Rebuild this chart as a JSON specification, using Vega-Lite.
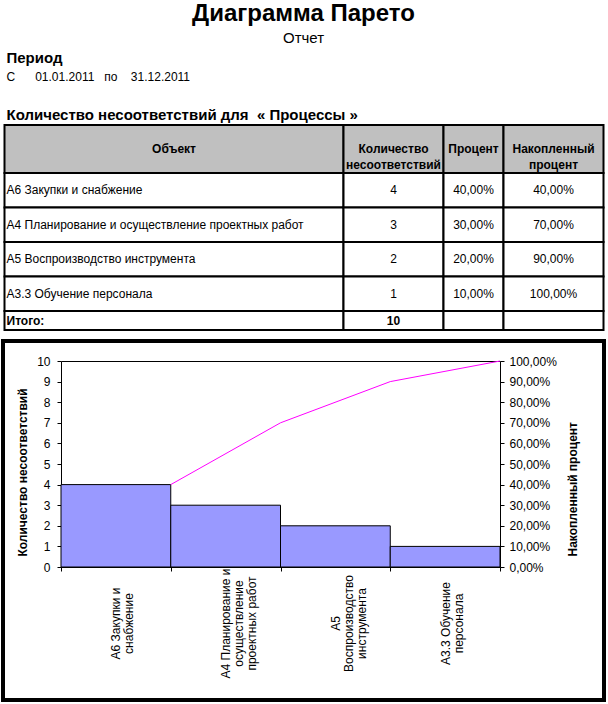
{
  "$schema": "https://vega.github.io/schema/vega-lite/v6.json",
  "padding": {"left": -5, "top": 2, "right": 0, "bottom": 0},
  "title": {"text": "Диаграмма Парето", "subtitle": "Отчет", "anchor": "middle", "fontSize": 24, "fontWeight": "bold", "subtitleFontSize": 15, "subtitlePadding": 5, "offset": 5, "dx": 3},
  "datasets": {
    "items": [
      {"object": "А6 Закупки и снабжение", "axisLabel": "А6 Закупки и|снабжение", "count": 4, "share": 0.4, "cumulative": 0.4},
      {"object": "А4 Планирование и осуществление проектных работ", "axisLabel": "А4 Планирование и|осуществление|проектных работ", "count": 3, "share": 0.3, "cumulative": 0.7},
      {"object": "А5 Воспроизводство инструмента", "axisLabel": "А5|Воспроизводство|инструмента", "count": 2, "share": 0.2, "cumulative": 0.9},
      {"object": "А3.3 Обучение персонала", "axisLabel": "А3.3 Обучение|персонала", "count": 1, "share": 0.1, "cumulative": 1.0}
    ],
    "columns": [
      {"key": "object", "header": "Объект"},
      {"key": "count", "header": ["Количество", "несоответствий"]},
      {"key": "share", "header": "Процент"},
      {"key": "cumulative", "header": ["Накопленный", "процент"]}
    ],
    "total": [{"label": "Итого:"}]
  },
  "vconcat": [
    {
      "title": {"text": "Период", "subtitle": "С\u00a0\u00a0\u00a0\u00a0\u00a0\u00a001.01.2011\u00a0\u00a0\u00a0по\u00a0\u00a0\u00a0\u00a031.12.2011", "anchor": "start", "fontSize": 15, "fontWeight": "bold", "subtitleFontSize": 12, "subtitlePadding": 6, "offset": 25, "dx": 3},
      "vconcat": [
        {
          "title": {"text": "Количество несоответствий для\u00a0\u00a0« Процессы »", "anchor": "start", "fontSize": 15, "fontWeight": "bold", "offset": 1, "dx": 3},
          "columns": 4,
          "spacing": 0,
          "bounds": "flush",
          "concat": [
            {"width": 339, "height": 48, "data": {"name": "columns"}, "transform": [{"filter": "datum.key === 'object'"}],
             "layer": [
               {"mark": {"type": "rect", "fill": "#c0c0c0", "stroke": "#000", "strokeWidth": 2}, "encoding": {}},
               {"mark": {"type": "text", "fontWeight": "bold", "fontSize": 12, "lineHeight": 16, "align": "center", "baseline": "middle"}, "encoding": {"text": {"field": "header", "type": "nominal"}}}
             ]},
            {"width": 100, "height": 48, "data": {"name": "columns"}, "transform": [{"filter": "datum.key === 'count'"}],
             "layer": [
               {"mark": {"type": "rect", "fill": "#c0c0c0", "stroke": "#000", "strokeWidth": 2}, "encoding": {}},
               {"mark": {"type": "text", "fontWeight": "bold", "fontSize": 12, "lineHeight": 16, "align": "center", "baseline": "middle"}, "encoding": {"text": {"field": "header", "type": "nominal"}}}
             ]},
            {"width": 60, "height": 48, "data": {"name": "columns"}, "transform": [{"filter": "datum.key === 'share'"}],
             "layer": [
               {"mark": {"type": "rect", "fill": "#c0c0c0", "stroke": "#000", "strokeWidth": 2}, "encoding": {}},
               {"mark": {"type": "text", "fontWeight": "bold", "fontSize": 12, "lineHeight": 16, "align": "center", "baseline": "middle"}, "encoding": {"text": {"field": "header", "type": "nominal"}}}
             ]},
            {"width": 100, "height": 48, "data": {"name": "columns"}, "transform": [{"filter": "datum.key === 'cumulative'"}],
             "layer": [
               {"mark": {"type": "rect", "fill": "#c0c0c0", "stroke": "#000", "strokeWidth": 2}, "encoding": {}},
               {"mark": {"type": "text", "fontWeight": "bold", "fontSize": 12, "lineHeight": 16, "align": "center", "baseline": "middle"}, "encoding": {"text": {"field": "header", "type": "nominal"}}}
             ]},

            {"width": 339, "height": 138, "data": {"name": "items"},
             "layer": [
               {"mark": {"type": "rect", "fill": "#fff", "stroke": "#000", "strokeWidth": 2},
                "encoding": {"y": {"field": "object", "type": "nominal", "sort": null, "axis": null, "scale": {"paddingInner": 0, "paddingOuter": 0}}}},
               {"mark": {"type": "text", "fontSize": 12, "align": "left", "baseline": "middle", "dx": 2},
                "encoding": {
                  "x": {"datum": 0, "type": "quantitative", "scale": {"domain": [0, 1]}, "axis": null},
                  "y": {"field": "object", "type": "nominal", "sort": null, "axis": null},
                  "text": {"field": "object", "type": "nominal"}}}
             ],
             "resolve": {"scale": {"x": "independent"}}},
            {"width": 100, "height": 138, "data": {"name": "items"},
             "layer": [
               {"mark": {"type": "rect", "fill": "#fff", "stroke": "#000", "strokeWidth": 2},
                "encoding": {"y": {"field": "object", "type": "nominal", "sort": null, "axis": null, "scale": {"paddingInner": 0, "paddingOuter": 0}}}},
               {"mark": {"type": "text", "fontSize": 12, "align": "center", "baseline": "middle"},
                "encoding": {
                  "y": {"field": "object", "type": "nominal", "sort": null, "axis": null},
                  "text": {"field": "count", "type": "quantitative"}}}
             ]},
            {"width": 60, "height": 138, "data": {"name": "items"},
             "layer": [
               {"mark": {"type": "rect", "fill": "#fff", "stroke": "#000", "strokeWidth": 2},
                "encoding": {"y": {"field": "object", "type": "nominal", "sort": null, "axis": null, "scale": {"paddingInner": 0, "paddingOuter": 0}}}},
               {"mark": {"type": "text", "fontSize": 12, "align": "center", "baseline": "middle"},
                "encoding": {
                  "y": {"field": "object", "type": "nominal", "sort": null, "axis": null},
                  "text": {"field": "share", "type": "quantitative", "format": ".2%"}}}
             ]},
            {"width": 100, "height": 138, "data": {"name": "items"},
             "layer": [
               {"mark": {"type": "rect", "fill": "#fff", "stroke": "#000", "strokeWidth": 2},
                "encoding": {"y": {"field": "object", "type": "nominal", "sort": null, "axis": null, "scale": {"paddingInner": 0, "paddingOuter": 0}}}},
               {"mark": {"type": "text", "fontSize": 12, "align": "center", "baseline": "middle"},
                "encoding": {
                  "y": {"field": "object", "type": "nominal", "sort": null, "axis": null},
                  "text": {"field": "cumulative", "type": "quantitative", "format": ".2%"}}}
             ]},

            {"width": 339, "height": 19, "data": {"name": "total"},
             "layer": [
               {"mark": {"type": "rect", "fill": "#fff", "stroke": "#000", "strokeWidth": 2}, "encoding": {}},
               {"mark": {"type": "text", "fontSize": 12, "fontWeight": "bold", "align": "left", "baseline": "middle", "dx": 2},
                "encoding": {
                  "x": {"datum": 0, "type": "quantitative", "scale": {"domain": [0, 1]}, "axis": null},
                  "text": {"field": "label", "type": "nominal"}}}
             ],
             "resolve": {"scale": {"x": "independent"}}},
            {"width": 100, "height": 19, "data": {"name": "items"},
             "transform": [{"aggregate": [{"op": "sum", "field": "count", "as": "total"}]}],
             "layer": [
               {"mark": {"type": "rect", "fill": "#fff", "stroke": "#000", "strokeWidth": 2}, "encoding": {}},
               {"mark": {"type": "text", "fontSize": 12, "fontWeight": "bold", "align": "center", "baseline": "middle"},
                "encoding": {"text": {"field": "total", "type": "quantitative"}}}
             ]},
            {"width": 60, "height": 19, "data": {"name": "total"},
             "layer": [
               {"mark": {"type": "rect", "fill": "#fff", "stroke": "#000", "strokeWidth": 2}, "encoding": {}}
             ]},
            {"width": 100, "height": 19, "data": {"name": "total"},
             "layer": [
               {"mark": {"type": "rect", "fill": "#fff", "stroke": "#000", "strokeWidth": 2}, "encoding": {}}
             ]}
          ]
        }
      ]
    },
    {
      "width": 601,
      "height": 359,
      "view": {"stroke": "#000", "strokeWidth": 4},
      "data": {"name": "items"},
      "layer": [
        {
          "mark": {"type": "bar", "fill": "#9999ff", "stroke": "#000", "strokeWidth": 1},
          "encoding": {
            "x": {"field": "axisLabel", "type": "nominal", "sort": null,
              "scale": {"type": "band", "range": [58, 497], "paddingInner": 0, "paddingOuter": 0},
              "axis": {"title": null, "orient": "bottom", "offset": -133, "labelExpr": "split(datum.label, '|')", "labelAngle": -90, "labelAlign": "center", "labelBaseline": "middle", "labelPadding": 52, "labelLineHeight": 13, "tickBand": "extent", "labelOverlap": false, "labelBound": false, "labelFlush": false}},
            "y": {"field": "count", "type": "quantitative",
              "scale": {"domain": [0, 10], "range": [226, 20], "nice": false},
              "axis": {"title": "Количество несоответствий", "orient": "left", "offset": -58, "tickCount": 10, "labelPadding": 7, "titlePadding": 7, "titleAnchor": "start", "titleAlign": "left", "titleY": 215}}
          }
        },
        {
          "mark": {"type": "line", "stroke": "#ff00ff", "strokeWidth": 1},
          "encoding": {
            "x": {"field": "axisLabel", "type": "nominal", "sort": null, "bandPosition": 1,
              "axis": {"orient": "top", "offset": -20, "labels": false, "ticks": false, "title": null}},
            "y": {"field": "cumulative", "type": "quantitative",
              "scale": {"domain": [0, 1], "range": [226, 20], "nice": false},
              "axis": {"title": "Накопленный процент", "orient": "right", "offset": -104, "format": ".2%", "tickCount": 10, "labelPadding": 5, "titlePadding": 11, "titleAngle": 270, "titleBaseline": "top", "titleAnchor": "start", "titleAlign": "left", "titleY": 215}},
            "order": {"field": "cumulative", "type": "quantitative"}
          }
        }
      ],
      "resolve": {"scale": {"y": "independent"}, "axis": {"x": "independent"}}
    }
  ],
  "spacing": 8,
  "center": true,
  "config": {
    "font": "Liberation Sans",
    "view": {"stroke": null},
    "axis": {"grid": false, "domainColor": "#000", "tickColor": "#000", "labelColor": "#000", "titleColor": "#000", "labelFontSize": 12, "titleFontSize": 12, "titleFontWeight": "bold", "tickSize": 4, "labelFont": "Liberation Sans", "titleFont": "Liberation Sans"},
    "title": {"color": "#000", "subtitleColor": "#000", "font": "Liberation Sans", "subtitleFont": "Liberation Sans"},
    "text": {"color": "#000", "font": "Liberation Sans"},
    "locale": {"number": {"decimal": ",", "thousands": "\u00a0", "grouping": [3], "currency": ["", " ₽"]}}
  }
}
